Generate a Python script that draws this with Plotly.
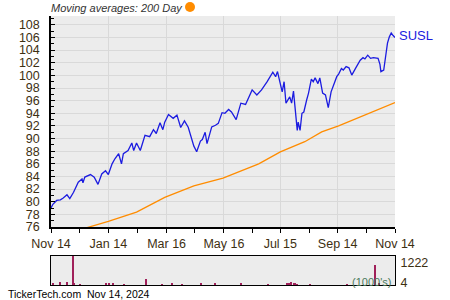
import plotly.graph_objects as go

# ---------------- data ----------------
price_dates = [
    "2023-11-14", "2023-11-16", "2023-11-20", "2023-11-24", "2023-11-27", "2023-12-01", "2023-12-04",
    "2023-12-08", "2023-12-13", "2023-12-17", "2023-12-18", "2023-12-20", "2023-12-26", "2023-12-30",
    "2024-01-03", "2024-01-07", "2024-01-11", "2024-01-14", "2024-01-18", "2024-01-21", "2024-01-25",
    "2024-01-28", "2024-01-30", "2024-02-04", "2024-02-08", "2024-02-10", "2024-02-13", "2024-02-17",
    "2024-02-22", "2024-02-27", "2024-03-02", "2024-03-05", "2024-03-09", "2024-03-12", "2024-03-14",
    "2024-03-18", "2024-03-23", "2024-03-27", "2024-03-31", "2024-04-04", "2024-04-08", "2024-04-12",
    "2024-04-14", "2024-04-17", "2024-04-21", "2024-04-23", "2024-04-26", "2024-04-28", "2024-05-03",
    "2024-05-07", "2024-05-10", "2024-05-14", "2024-05-17", "2024-05-21", "2024-05-24", "2024-05-29",
    "2024-06-03", "2024-06-08", "2024-06-11", "2024-06-15", "2024-06-20", "2024-06-25", "2024-07-01",
    "2024-07-04", "2024-07-07", "2024-07-10", "2024-07-12", "2024-07-14", "2024-07-17", "2024-07-19",
    "2024-07-21", "2024-07-25", "2024-07-27", "2024-07-29", "2024-07-31", "2024-08-02", "2024-08-03",
    "2024-08-05", "2024-08-07", "2024-08-09", "2024-08-12", "2024-08-14", "2024-08-17", "2024-08-19",
    "2024-08-21", "2024-08-24", "2024-08-26", "2024-08-29", "2024-09-01", "2024-09-03", "2024-09-04",
    "2024-09-07", "2024-09-10", "2024-09-13", "2024-09-15", "2024-09-18", "2024-09-20", "2024-09-23",
    "2024-09-26", "2024-09-29", "2024-10-03", "2024-10-05", "2024-10-08", "2024-10-11", "2024-10-13",
    "2024-10-16", "2024-10-19", "2024-10-22", "2024-10-27", "2024-10-29", "2024-10-30", "2024-11-02",
    "2024-11-04", "2024-11-06", "2024-11-08", "2024-11-10", "2024-11-12", "2024-11-14",
]
price_values = [
    79.0, 79.6, 80.2, 80.3, 80.6, 81.1, 80.5,
    81.5, 83.1, 83.6, 83.0, 83.9, 84.3, 83.9,
    82.75, 84.4, 84.9, 84.3, 86.0, 86.8, 87.6,
    86.0, 87.6, 88.1, 89.3, 88.1, 89.3, 88.1,
    90.5, 90.3, 91.4, 90.8, 92.5, 91.4, 92.6,
    93.8, 93.2, 93.7, 91.75, 92.8, 91.8, 89.7,
    88.8, 87.9, 89.6, 89.85, 91.0, 89.2, 91.85,
    92.1, 92.4, 94.1, 94.0, 94.6, 94.2, 93.0,
    95.6, 95.4, 96.35, 97.7, 96.9, 97.7, 99.0,
    99.8, 100.5, 99.8, 100.6, 99.3, 97.4, 99.0,
    95.6, 96.6, 95.6, 97.5, 94.2, 91.3, 92.6,
    91.3, 94.0, 94.2, 96.1, 97.2, 99.4, 99.0,
    99.6, 98.7, 99.6, 97.2, 96.9, 95.6, 94.9,
    97.4, 98.5, 99.8, 100.2, 101.1, 100.85, 101.4,
    101.2, 100.05, 101.1, 101.6, 102.4, 102.8, 102.6,
    103.2, 102.7, 102.8, 102.7, 101.75, 100.6, 100.85,
    103.2, 105.1, 106.1, 106.7, 106.3, 106.0,
]

ma_dates = ["2023-11-14", "2023-12-25", "2024-01-14", "2024-02-13", "2024-03-14", "2024-04-14",
            "2024-05-15", "2024-06-22", "2024-07-15", "2024-08-10", "2024-08-28", "2024-09-15",
            "2024-10-13", "2024-11-14"]
ma_values = [74.2, 76.0, 76.9, 78.35, 80.7, 82.5,
             83.75, 86.0, 87.9, 89.5, 91.05, 92.0,
             93.7, 95.7]

vol_dates = ["2023-11-16", "2023-11-24", "2023-12-01", "2023-12-07", "2023-12-08", "2023-12-15",
             "2024-01-12", "2024-01-15", "2024-01-19", "2024-01-31", "2024-02-23", "2024-03-11",
             "2024-03-22", "2024-04-01", "2024-04-22", "2024-05-06", "2024-06-03", "2024-07-02",
             "2024-07-22", "2024-07-24", "2024-07-26", "2024-07-29", "2024-07-31", "2024-08-02",
             "2024-08-16", "2024-09-24", "2024-10-24", "2024-10-28"]
vol_values = [84, 140, 126, 1222, 84, 42,
              63, 63, 84, 42, 240, 42,
              63, 42, 63, 63, 63, 42,
              63, 105, 126, 105, 84, 42,
              42, 42, 843, 63]

x_tick_vals = ["2023-11-14", "2024-01-14", "2024-03-16", "2024-05-16", "2024-07-15", "2024-09-14", "2024-11-14"]
x_tick_text = ["Nov 14", "Jan 14", "Mar 16", "May 16", "Jul 15", "Sep 14", "Nov 14"]
x_minor_vals = ["2023-12-14", "2024-02-14", "2024-04-15", "2024-06-15", "2024-08-15", "2024-10-15"]
y_tick_vals = list(range(76, 110, 2))
vol_label_text = ["1222", "4"]

# ---------------- figure ----------------
W, H = 450, 300
def px_x(p): return p / W
def px_y(p): return 1 - p / H

FONT = "Liberation Sans, Arial, sans-serif"
TXT = "#3d2f12"
BG = "#ececec"
GRID = "#d9d9d9"

fig = go.Figure()
fig.add_trace(go.Scatter(x=ma_dates, y=ma_values, mode="lines",
                         line=dict(color="#ff8c00", width=1.3), xaxis="x", yaxis="y",
                         hoverinfo="skip", showlegend=False))
fig.add_trace(go.Scatter(x=price_dates, y=price_values, mode="lines",
                         line=dict(color="#1c1ce0", width=1.3), xaxis="x", yaxis="y",
                         showlegend=False))
fig.add_trace(go.Bar(x=vol_dates, y=vol_values, marker=dict(color="#a0205a", line=dict(width=0)),
                     width=86400000 * 1.0, xaxis="x2", yaxis="y2", showlegend=False))

xdom = [px_x(51), px_x(395)]
xrange_ = ["2023-11-14", "2024-11-14"]

fig.update_layout(
    width=W, height=H, autosize=False,
    margin=dict(l=0, r=0, t=0, b=0, pad=0),
    paper_bgcolor="white", plot_bgcolor=BG,
    font=dict(family=FONT, size=12, color=TXT),
    bargap=0,
    xaxis=dict(domain=xdom, range=xrange_, type="date", automargin=False,
               tickmode="array", tickvals=x_tick_vals, ticktext=x_tick_text,
               ticks="outside", ticklen=4, tickcolor="black", tickwidth=1,
               showline=True, linecolor="black", linewidth=1.5,
               showgrid=True, gridcolor=GRID, gridwidth=1,
               minor=dict(tickmode="array", tickvals=x_minor_vals, ticks="outside",
                          ticklen=4, tickcolor="black", showgrid=False),
               tickfont=dict(size=12.5, color=TXT), zeroline=False, anchor="y"),
    yaxis=dict(domain=[px_y(227), px_y(16)], range=[76, 109.4], automargin=False,
               tickmode="array", tickvals=y_tick_vals,
               ticks="inside", ticklen=4, tickcolor="black",
               showline=True, linecolor="black", linewidth=1.5,
               showgrid=True, gridcolor=GRID, gridwidth=1,
               minor=dict(dtick=1, tick0=76, ticks="inside", ticklen=3, tickcolor="black", showgrid=False),
               tickfont=dict(size=12.5, color=TXT), ticklabelstandoff=7, zeroline=False, anchor="x"),
    xaxis2=dict(domain=xdom, range=xrange_, type="date", showticklabels=False, ticks="", automargin=False,
                showline=True, mirror=True, linecolor="black", linewidth=1,
                showgrid=False, zeroline=False, anchor="y2"),
    yaxis2=dict(domain=[px_y(285), px_y(256)], range=[0, 1222], side="right", automargin=False,
                tickmode="array", tickvals=[940, 97], ticktext=vol_label_text,
                ticks="", showline=True, mirror=True, linecolor="black", linewidth=1,
                showgrid=False, zeroline=False, tickfont=dict(size=12.5, color=TXT),
                ticklabelstandoff=2, anchor="x2"),
)

fig.add_annotation(x=px_x(50), y=px_y(7.5), xref="paper", yref="paper", xanchor="left", yanchor="middle",
                   align="left", text="Moving averages: 200 Day", showarrow=False, borderpad=0,
                   font=dict(size=11, color="#333333", family=FONT, style="italic"))
fig.add_shape(type="circle", xref="paper", yref="paper",
              x0=px_x(185), x1=px_x(195), y0=px_y(12), y1=px_y(2),
              fillcolor="#ff8c00", line=dict(width=0))
fig.add_annotation(x=px_x(397), y=px_y(35), xref="paper", yref="paper", xanchor="left", yanchor="middle",
                   align="left", text="SUSL", showarrow=False, font=dict(size=13, color="#1c1ce0", family=FONT))
fig.add_annotation(x=px_x(393), y=px_y(281.5), xref="paper", yref="paper", xanchor="right", yanchor="middle",
                   align="right", text="(1000's)", showarrow=False, font=dict(size=11, color="#4a7a5a", family=FONT))
fig.add_annotation(x=px_x(6), y=px_y(294), xref="paper", yref="paper", xanchor="left", yanchor="middle",
                   align="left", text="TickerTech.com  Nov 14, 2024", showarrow=False,
                   font=dict(size=10.5, color="black", family=FONT))

fig.write_html("out.html")
